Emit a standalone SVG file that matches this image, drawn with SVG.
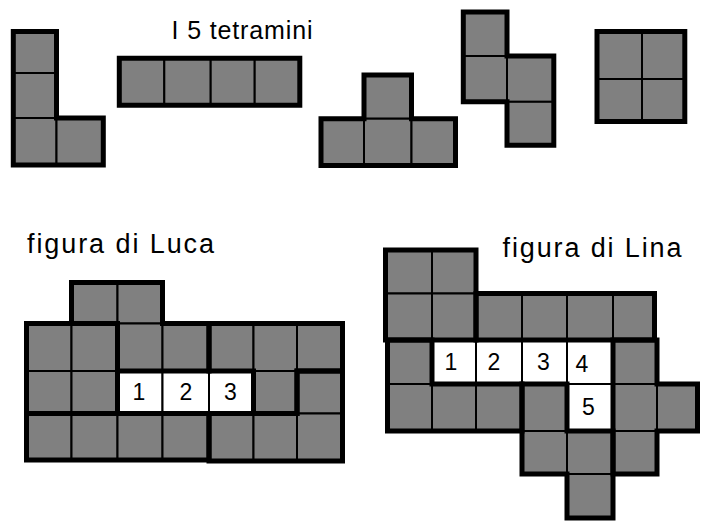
<svg xmlns="http://www.w3.org/2000/svg" width="701" height="522" viewBox="0 0 701 522">
<style>
.g{fill:#808080;stroke:#000;stroke-width:2}
.w{fill:#fff;stroke:#000;stroke-width:2}
.o{fill:none;stroke:#000;stroke-width:5;stroke-linejoin:miter}
.t{font-family:"Liberation Sans",Arial,sans-serif;font-size:25px;fill:#000}
.f{font-family:"Liberation Sans",Arial,sans-serif;font-size:27px;fill:#000}
.n{font-family:"Liberation Sans",Arial,sans-serif;font-size:23px;fill:#000;text-anchor:middle}
</style>
<rect width="701" height="522" fill="#fff"/>
<text class="t" x="171.5" y="38.5" textLength="141" lengthAdjust="spacing">I 5 tetramini</text>
<text class="f" x="27" y="253" textLength="187" lengthAdjust="spacing">figura di Luca</text>
<text class="f" x="502.5" y="257" textLength="179" lengthAdjust="spacing">figura di Lina</text>

<g id="tetramino-L">
<rect class="g" x="13.3" y="31.5" width="43.2" height="41.5"/>
<rect class="g" x="13.3" y="73" width="43.2" height="45"/>
<rect class="g" x="13.3" y="118" width="43.2" height="47"/>
<rect class="g" x="56.5" y="118" width="46.8" height="47"/>
<path class="o" d="M13.3,31.5H56.5V118H103.3V165H13.3Z"/>
</g>
<g id="tetramino-I">
<rect class="g" x="119.3" y="58.3" width="45" height="46.9"/>
<rect class="g" x="164.3" y="58.3" width="46.4" height="46.9"/>
<rect class="g" x="210.7" y="58.3" width="44" height="46.9"/>
<rect class="g" x="254.7" y="58.3" width="45.1" height="46.9"/>
<path class="o" d="M119.3,58.3H299.8V105.2H119.3Z"/>
</g>
<g id="tetramino-T">
<rect class="g" x="364" y="75" width="47.5" height="43.7"/>
<rect class="g" x="321" y="118.7" width="43" height="46.8"/>
<rect class="g" x="364" y="118.7" width="47.5" height="46.8"/>
<rect class="g" x="411.5" y="118.7" width="44" height="46.8"/>
<path class="o" d="M364,75H411.5V118.7H455.5V165.5H321V118.7H364Z"/>
</g>
<g id="tetramino-S">
<rect class="g" x="463.3" y="12" width="43.7" height="44"/>
<rect class="g" x="463.3" y="56" width="43.7" height="45.8"/>
<rect class="g" x="507" y="56" width="46.8" height="45.8"/>
<rect class="g" x="507" y="101.8" width="46.8" height="43.4"/>
<path class="o" d="M463.3,12H507V56H553.8V145.2H507V101.8H463.3Z"/>
</g>
<g id="tetramino-O">
<rect class="g" x="597" y="31.5" width="45" height="47.5"/>
<rect class="g" x="642" y="31.5" width="42.8" height="47.5"/>
<rect class="g" x="597" y="79" width="45" height="42.5"/>
<rect class="g" x="642" y="79" width="42.8" height="42.5"/>
<path class="o" d="M597,31.5H684.8V121.5H597Z"/>
</g>

<g id="luca">
<g id="luca-S">
<rect class="g" x="71.5" y="282.5" width="46" height="41"/>
<rect class="g" x="117.5" y="282.5" width="45" height="41"/>
<rect class="g" x="117.5" y="323.5" width="45" height="47.5"/>
<rect class="g" x="162.5" y="323.5" width="46.5" height="47.5"/>
</g>
<g id="luca-O">
<rect class="g" x="26.5" y="323.5" width="45" height="47.5"/>
<rect class="g" x="71.5" y="323.5" width="46" height="47.5"/>
<rect class="g" x="26.5" y="371" width="45" height="42.5"/>
<rect class="g" x="71.5" y="371" width="46" height="42.5"/>
</g>
<g id="luca-I">
<rect class="g" x="26.5" y="413.5" width="45" height="46.5"/>
<rect class="g" x="71.5" y="413.5" width="46" height="46.5"/>
<rect class="g" x="117.5" y="413.5" width="45" height="46.5"/>
<rect class="g" x="162.5" y="413.5" width="46.5" height="46.5"/>
</g>
<g id="luca-T">
<rect class="g" x="209" y="323.5" width="44.5" height="47.5"/>
<rect class="g" x="253.5" y="323.5" width="43.5" height="47.5"/>
<rect class="g" x="297" y="323.5" width="45.5" height="47.5"/>
<rect class="g" x="253.5" y="371" width="43.5" height="42.5"/>
</g>
<g id="luca-L">
<rect class="g" x="297" y="371" width="45.5" height="42.5"/>
<rect class="g" x="209" y="413.5" width="44.5" height="47"/>
<rect class="g" x="253.5" y="413.5" width="43.5" height="47"/>
<rect class="g" x="297" y="413.5" width="45.5" height="47"/>
</g>
<g id="luca-holes">
<rect class="w" x="117.5" y="371" width="45" height="42.5"/>
<rect class="w" x="162.5" y="371" width="46.5" height="42.5"/>
<rect class="w" x="209" y="371" width="44.5" height="42.5"/>
<text class="n" x="139" y="400">1</text>
<text class="n" x="186" y="400">2</text>
<text class="n" x="230.5" y="400">3</text>
</g>
<path class="o" d="M71.5,282.5H162.5V323.5H209V371H117.5V323.5H71.5Z"/>
<path class="o" d="M26.5,323.5H117.5V413.5H26.5Z"/>
<path class="o" d="M26.5,413.5H209V460H26.5Z"/>
<path class="o" d="M209,323.5H342.5V371H297V413.5H253.5V371H209Z"/>
<path class="o" d="M297,371H342.5V461H209V413.5H297Z"/>
</g>

<g id="lina">
<g id="lina-O">
<rect class="g" x="385.5" y="250" width="46.5" height="43.5"/>
<rect class="g" x="432" y="250" width="44" height="43.5"/>
<rect class="g" x="385.5" y="293.5" width="46.5" height="46.5"/>
<rect class="g" x="432" y="293.5" width="44" height="46.5"/>
</g>
<g id="lina-I">
<rect class="g" x="476" y="293.5" width="46" height="46.5"/>
<rect class="g" x="522" y="293.5" width="45" height="46.5"/>
<rect class="g" x="567" y="293.5" width="46" height="46.5"/>
<rect class="g" x="613" y="293.5" width="41.5" height="46.5"/>
</g>
<g id="lina-L">
<rect class="g" x="387.5" y="340" width="44.5" height="44"/>
<rect class="g" x="387.5" y="384" width="44.5" height="47"/>
<rect class="g" x="432" y="384" width="44" height="47"/>
<rect class="g" x="476" y="384" width="46" height="47"/>
</g>
<g id="lina-S">
<rect class="g" x="522" y="384" width="45" height="47"/>
<rect class="g" x="522" y="431" width="45" height="43"/>
<rect class="g" x="567" y="431" width="46" height="43"/>
<rect class="g" x="567" y="474" width="46" height="44"/>
</g>
<g id="lina-T">
<rect class="g" x="613" y="340" width="44" height="44"/>
<rect class="g" x="613" y="384" width="44" height="47"/>
<rect class="g" x="657" y="384" width="40.5" height="47"/>
<rect class="g" x="613" y="431" width="44" height="43"/>
</g>
<g id="lina-holes">
<rect class="w" x="432" y="340" width="44" height="44"/>
<rect class="w" x="476" y="340" width="46" height="44"/>
<rect class="w" x="522" y="340" width="45" height="44"/>
<rect class="w" x="567" y="340" width="46" height="44"/>
<rect class="w" x="567" y="384" width="46" height="47"/>
<text class="n" x="451" y="370">1</text>
<text class="n" x="494" y="370">2</text>
<text class="n" x="543.5" y="370">3</text>
<text class="n" x="582" y="371.5">4</text>
<text class="n" x="588.5" y="415">5</text>
</g>
<path class="o" d="M385.5,250H476V340H385.5Z"/>
<path class="o" d="M476,293.5H654.5V340H476Z"/>
<path class="o" d="M387.5,340H432V384H522V431H387.5Z"/>
<path class="o" d="M522,384H567V431H613V518H567V474H522Z"/>
<path class="o" d="M613,340H657V384H697.5V431H657V474H613Z"/>
</g>
</svg>
